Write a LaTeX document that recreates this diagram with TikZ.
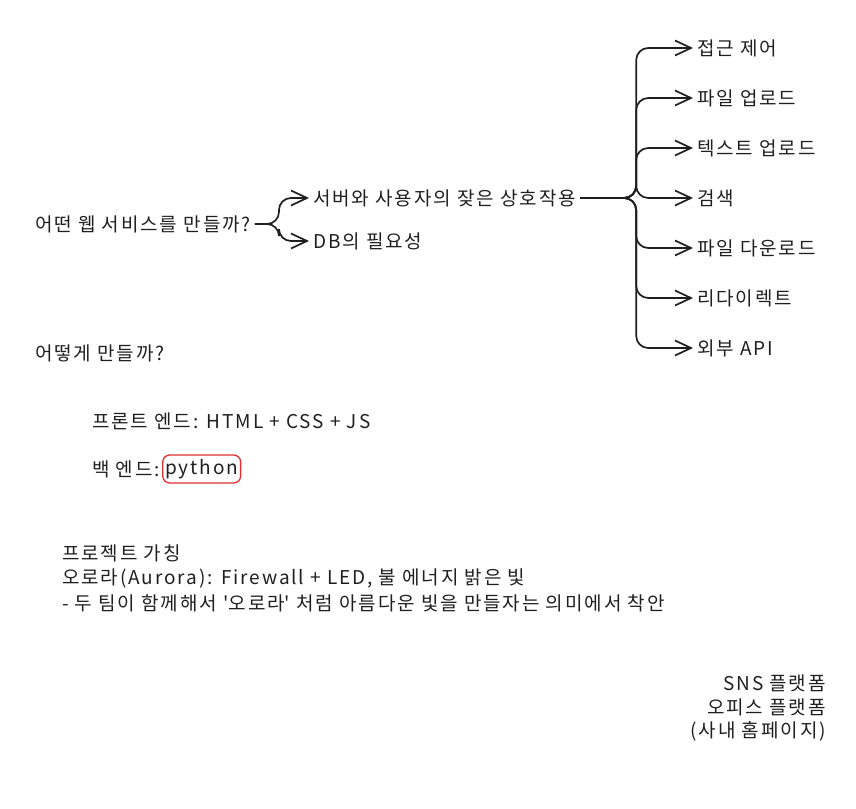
\documentclass[tikz,border=0pt]{standalone}
\usepackage{fontspec}
\setmainfont{Noto Sans CJK KR}[LetterSpace = 10]
\usetikzlibrary{arrows.meta, positioning}
\definecolor{color1}{rgb}{0.88, 0.19, 0.19}
\definecolor{color2}{rgb}{0.12, 0.12, 0.12}

\begin{document}
\begin{tikzpicture}[x = 1pt, y = -1pt,
  txt/.style = {anchor = west, inner xsep = 4pt, inner ysep = 0pt, text = color2,
    font = \fontsize{19}{23}\selectfont},
  rtxt/.style = {anchor = east, inner sep = 0pt, text = color2,
    font = \fontsize{19}{23}\selectfont},
  link/.style = {line width = 1.7pt, color2, rounded corners = 12pt,
    -{Straight Barb[length = 16pt, width = 15pt, line width = 1.7pt]}}]

\useasboundingbox (0, 0) rectangle (856, 808);

% what to build
\node [txt] (ask) at (31, 224) {어떤 웹 서비스를 만들까?};
\node [txt] (srv) at (309, 198) {서버와 사용자의 잦은 상호작용};
\node [txt] (db) at (309, 241) {DB의 필요성};
\draw [link] (ask.east) -- ++(24, 0) |- (srv.west);
\draw [link] (ask.east) -- ++(24, 0) |- (db.west);

% features
\foreach \t [count = \i] in {접근 제어, 파일 업로드, 텍스트 업로드, 검색,
  파일 다운로드, 리다이렉트, 외부 API}
  \node [txt] (f\i) at (693, {48 + 50*(\i - 1)}) {\t};
\foreach \i in {1, ..., 7}
  \draw [link] (srv.east) -- ++(56, 0) |- (f\i.west);

% how to build
\node [txt] (how) at (31, 353) {어떻게 만들까?};
\node [txt] (front) at (88, 421) {프론트 엔드: HTML + CSS + JS};
\node [txt] (back) at (88, 469) {백 엔드:};
\node [draw = color1, line width = 1.3pt, rounded corners = 7pt, text = color2,
  inner xsep = 2.5pt, minimum height = 28pt, font = \fontsize{19}{23}\selectfont,
  right = -2pt of back] (py) {python};

% project name
\node [txt] (name) at (58, 553) {프로젝트 가칭};
\node [txt] (aurora) at (58, 578) {오로라(Aurora): Firewall + LED, 불 에너지 밝은 빛};
\node [txt] (idea) at (58, 603) {- 두 팀이 함께해서 \textquotesingle 오로라\textquotesingle{} 처럼 아름다운 빛을 만들자는 의미에서 착안};

% platforms
\node [rtxt] (sns) at (826, 683) {SNS 플랫폼};
\node [rtxt] (office) at (826, 707) {오피스 플랫폼};
\node [rtxt] (intra) at (826, 731) {(사내 홈페이지)};

\end{tikzpicture}
\end{document}
